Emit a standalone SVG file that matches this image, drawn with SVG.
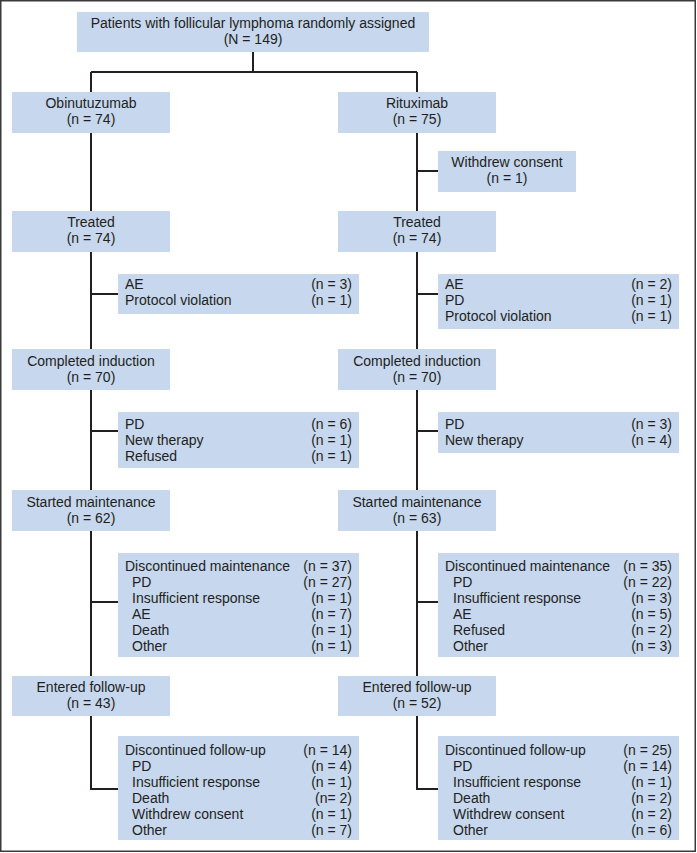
<svg xmlns="http://www.w3.org/2000/svg" width="697" height="853" viewBox="0 0 697 853">
<style>
.box{fill:#c6d7ee}
.t{font-family:"Liberation Sans",Arial,sans-serif;font-size:14px;fill:#231f20}
.c{text-anchor:middle}
.r{text-anchor:end}
.ln{stroke:#231f20;stroke-width:2;fill:none}
</style>
<rect x="0.75" y="0.75" width="694.5" height="850.5" fill="#ffffff" stroke="#3a3a3a" stroke-width="1.5"/>
<g id="connectors" class="ln">
<path d="M253,52 V72 M91,72 H417"/>
<path d="M91,72 V789 H118"/>
<path d="M417,72 V789 H438"/>
<path d="M91,294 H118 M91,431 H118 M91,602 H118"/>
<path d="M417,171 H438 M417,294 H438 M417,431 H438 M417,602 H438"/>
</g>
<g id="n-top"><rect class="box" x="77" y="12" width="352" height="40"/>
<text class="t c" x="253" y="28">Patients with follicular lymphoma randomly assigned</text>
<text class="t c" x="253" y="44">(N = 149)</text></g>
<g id="n-obi"><rect class="box" x="12" y="92" width="158" height="41"/>
<text class="t c" x="91" y="108">Obinutuzumab</text><text class="t c" x="91" y="124">(n = 74)</text></g>
<g id="n-rit"><rect class="box" x="338" y="92" width="158" height="41"/>
<text class="t c" x="417" y="108">Rituximab</text><text class="t c" x="417" y="124">(n = 75)</text></g>
<g id="n-withdrew"><rect class="box" x="438" y="151" width="138" height="41"/>
<text class="t c" x="507" y="167">Withdrew consent</text><text class="t c" x="507" y="183">(n = 1)</text></g>
<g id="n-treated-l"><rect class="box" x="12" y="211" width="158" height="41"/>
<text class="t c" x="91" y="227">Treated</text><text class="t c" x="91" y="243">(n = 74)</text></g>
<g id="n-treated-r"><rect class="box" x="338" y="211" width="158" height="41"/>
<text class="t c" x="417" y="227">Treated</text><text class="t c" x="417" y="243">(n = 74)</text></g>
<g id="n-ex1-l"><rect class="box" x="118" y="274" width="241" height="40"/>
<text class="t" x="125" y="289">AE</text><text class="t r" x="352" y="289">(n = 3)</text>
<text class="t" x="125" y="305">Protocol violation</text><text class="t r" x="352" y="305">(n = 1)</text></g>
<g id="n-ex1-r"><rect class="box" x="438" y="274" width="241" height="55"/>
<text class="t" x="445" y="289">AE</text><text class="t r" x="672" y="289">(n = 2)</text>
<text class="t" x="445" y="305">PD</text><text class="t r" x="672" y="305">(n = 1)</text>
<text class="t" x="445" y="321">Protocol violation</text><text class="t r" x="672" y="321">(n = 1)</text></g>
<g id="n-ci-l"><rect class="box" x="12" y="349" width="158" height="41"/>
<text class="t c" x="91" y="366">Completed induction</text><text class="t c" x="91" y="382">(n = 70)</text></g>
<g id="n-ci-r"><rect class="box" x="338" y="349" width="158" height="41"/>
<text class="t c" x="417" y="366">Completed induction</text><text class="t c" x="417" y="382">(n = 70)</text></g>
<g id="n-ex2-l"><rect class="box" x="118" y="412" width="241" height="56"/>
<text class="t" x="125" y="429">PD</text><text class="t r" x="352" y="429">(n = 6)</text>
<text class="t" x="125" y="445">New therapy</text><text class="t r" x="352" y="445">(n = 1)</text>
<text class="t" x="125" y="461">Refused</text><text class="t r" x="352" y="461">(n = 1)</text></g>
<g id="n-ex2-r"><rect class="box" x="438" y="412" width="241" height="41"/>
<text class="t" x="445" y="429">PD</text><text class="t r" x="672" y="429">(n = 3)</text>
<text class="t" x="445" y="445">New therapy</text><text class="t r" x="672" y="445">(n = 4)</text></g>
<g id="n-sm-l"><rect class="box" x="12" y="490" width="158" height="41"/>
<text class="t c" x="91" y="507">Started maintenance</text><text class="t c" x="91" y="523">(n = 62)</text></g>
<g id="n-sm-r"><rect class="box" x="338" y="490" width="158" height="41"/>
<text class="t c" x="417" y="507">Started maintenance</text><text class="t c" x="417" y="523">(n = 63)</text></g>
<g id="n-ex3-l"><rect class="box" x="118" y="553" width="241" height="104"/>
<text class="t" x="125" y="571">Discontinued maintenance</text><text class="t r" x="352" y="571">(n = 37)</text>
<text class="t" x="132" y="587">PD</text><text class="t r" x="352" y="587">(n = 27)</text>
<text class="t" x="132" y="603">Insufficient response</text><text class="t r" x="352" y="603">(n = 1)</text>
<text class="t" x="132" y="619">AE</text><text class="t r" x="352" y="619">(n = 7)</text>
<text class="t" x="132" y="635">Death</text><text class="t r" x="352" y="635">(n = 1)</text>
<text class="t" x="132" y="651">Other</text><text class="t r" x="352" y="651">(n = 1)</text></g>
<g id="n-ex3-r"><rect class="box" x="438" y="553" width="241" height="104"/>
<text class="t" x="445" y="571">Discontinued maintenance</text><text class="t r" x="672" y="571">(n = 35)</text>
<text class="t" x="453" y="587">PD</text><text class="t r" x="672" y="587">(n = 22)</text>
<text class="t" x="453" y="603">Insufficient response</text><text class="t r" x="672" y="603">(n = 3)</text>
<text class="t" x="453" y="619">AE</text><text class="t r" x="672" y="619">(n = 5)</text>
<text class="t" x="453" y="635">Refused</text><text class="t r" x="672" y="635">(n = 2)</text>
<text class="t" x="453" y="651">Other</text><text class="t r" x="672" y="651">(n = 3)</text></g>
<g id="n-fu-l"><rect class="box" x="12" y="676" width="158" height="40"/>
<text class="t c" x="91" y="692">Entered follow-up</text><text class="t c" x="91" y="708">(n = 43)</text></g>
<g id="n-fu-r"><rect class="box" x="338" y="676" width="158" height="40"/>
<text class="t c" x="417" y="692">Entered follow-up</text><text class="t c" x="417" y="708">(n = 52)</text></g>
<g id="n-ex4-l"><rect class="box" x="118" y="736" width="241" height="104"/>
<text class="t" x="125" y="755">Discontinued follow-up</text><text class="t r" x="352" y="755">(n = 14)</text>
<text class="t" x="132" y="771">PD</text><text class="t r" x="352" y="771">(n = 4)</text>
<text class="t" x="132" y="787">Insufficient response</text><text class="t r" x="352" y="787">(n = 1)</text>
<text class="t" x="132" y="803">Death</text><text class="t r" x="352" y="803">(n= 2)</text>
<text class="t" x="132" y="819">Withdrew consent</text><text class="t r" x="352" y="819">(n = 1)</text>
<text class="t" x="132" y="835">Other</text><text class="t r" x="352" y="835">(n = 7)</text></g>
<g id="n-ex4-r"><rect class="box" x="438" y="736" width="241" height="104"/>
<text class="t" x="445" y="755">Discontinued follow-up</text><text class="t r" x="672" y="755">(n = 25)</text>
<text class="t" x="453" y="771">PD</text><text class="t r" x="672" y="771">(n = 14)</text>
<text class="t" x="453" y="787">Insufficient response</text><text class="t r" x="672" y="787">(n = 1)</text>
<text class="t" x="453" y="803">Death</text><text class="t r" x="672" y="803">(n = 2)</text>
<text class="t" x="453" y="819">Withdrew consent</text><text class="t r" x="672" y="819">(n = 2)</text>
<text class="t" x="453" y="835">Other</text><text class="t r" x="672" y="835">(n = 6)</text></g>
</svg>
